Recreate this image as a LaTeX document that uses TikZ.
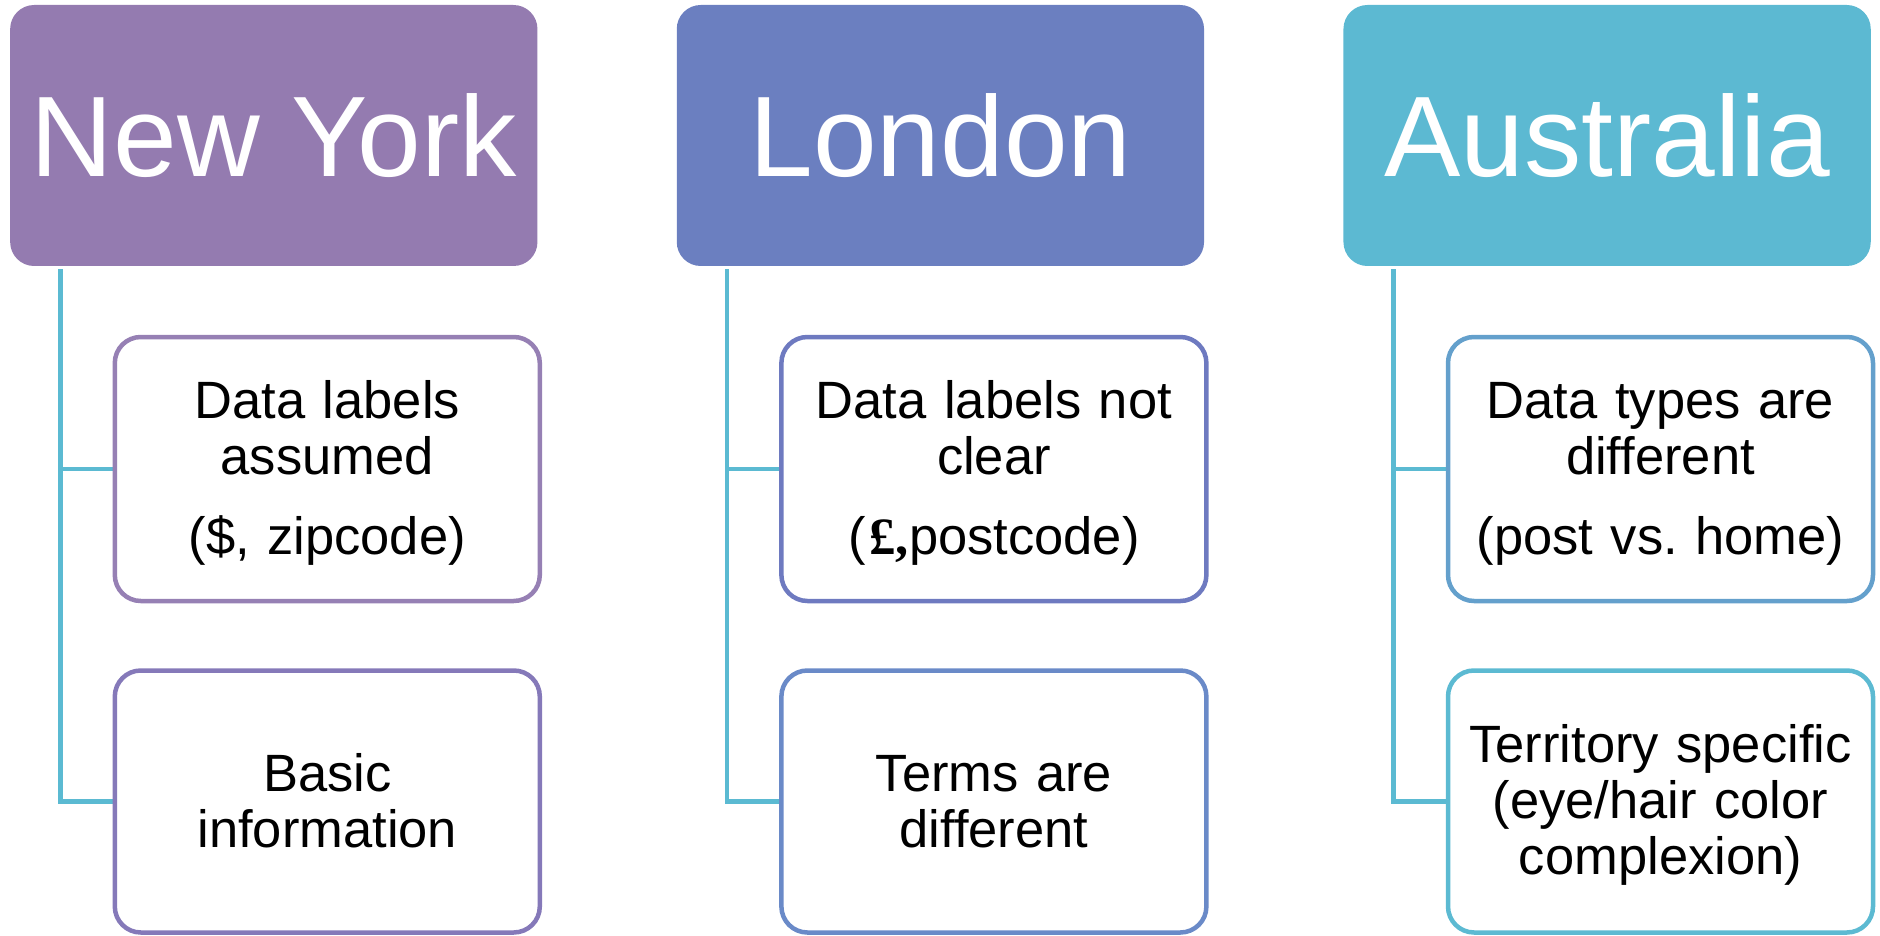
\documentclass[tikz,border=0pt]{standalone}
\usepackage{fontspec}
\setmainfont{Liberation Sans}
\newfontfamily\poundfont{Liberation Serif}
\usetikzlibrary{backgrounds}
\frenchspacing

\definecolor{nyhead}{HTML}{947BB0}
\definecolor{lonhead}{HTML}{6B7FC0}
\definecolor{aushead}{HTML}{5CB9D2}
\definecolor{nyA}{HTML}{9680B4}
\definecolor{nyB}{HTML}{8579B9}
\definecolor{lonA}{HTML}{6E7AC0}
\definecolor{lonB}{HTML}{6A8AC8}
\definecolor{ausA}{HTML}{64A0CC}
\definecolor{ausB}{HTML}{5CBAD2}
\definecolor{linkc}{HTML}{5BBAD2}

\begin{document}
\begin{tikzpicture}[x=1pt,y=-1pt,
  head/.style={rounded corners=24pt, minimum width=527.3pt, minimum height=261pt,
    inner sep=0pt, text=white, font=\fontsize{114.5}{120}\selectfont,
    text height=82pt, text depth=0pt},
  item/.style={draw, line width=4.5pt, fill=white, rounded corners=26pt,
    minimum width=425pt, minimum height=264pt, inner sep=0pt},
  txt/.style={anchor=base, text width=420pt, align=center, inner sep=0pt,
    font=\fontsize{52.5}{56}\selectfont},
  link/.style={draw=linkc, line width=4.5pt, shorten <=3pt},
]
\useasboundingbox (0,0) rectangle (1880,936);

% column headers
\node[head, fill=nyhead]  (ny)  at (273.8,135.5)  {New York};
\node[head, fill=lonhead] (lon) at (940.4,135.5)  {London};
\node[head, fill=aushead] (aus) at (1607.1,135.5) {Australia};

% item boxes
\node[item, draw=nyA]  (nya)  at (327.3,469)    {};
\node[item, draw=nyB, minimum height=262pt]  (nyb)  at (327.3,801.5)  {};
\node[item, draw=lonA] (lona) at (993.9,469)    {};
\node[item, draw=lonB, minimum height=262pt] (lonb) at (993.9,801.5)  {};
\node[item, draw=ausA] (ausa) at (1660.5,469)   {};
\node[item, draw=ausB, minimum height=262pt] (ausb) at (1660.5,801.5) {};

% item texts
\node[txt] (nyat)  at (327.3,418.4)  {Data labels\\assumed\\[23.6pt](\$, zipcode)};
\node[txt] (nybt)  at (327.3,791.6)  {Basic\\information};
\node[txt] (lonat) at (993.9,418.4)  {Data labels not\\clear\\[23.6pt](\kern4pt{\poundfont\bfseries £,}postcode)};
\node[txt] (lonbt) at (993.9,791.6)  {Terms are\\different};
\node[txt] (ausat) at (1660.5,418.4) {Data types are\\different\\[23.6pt](post vs. home)};
\node[txt] (ausbt) at (1660.5,762.7) {Territory specific\\(eye/hair color\\complexion)};

% trunk positions
\coordinate (nyT)  at (60.7,0);
\coordinate (lonT) at (727.2,0);
\coordinate (ausT) at (1393.7,0);

\begin{scope}[on background layer]
  \draw[link] (ny.south -| nyT) |- (nya.west);
  \draw[link] (ny.south -| nyT) |- (nyb.west);
  \draw[link] (lon.south -| lonT) |- (lona.west);
  \draw[link] (lon.south -| lonT) |- (lonb.west);
  \draw[link] (aus.south -| ausT) |- (ausa.west);
  \draw[link] (aus.south -| ausT) |- (ausb.west);
\end{scope}
\end{tikzpicture}
\end{document}
